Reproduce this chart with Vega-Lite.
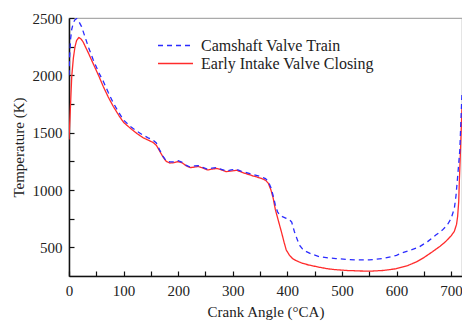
{
  "$schema": "https://vega.github.io/schema/vega-lite/v6.json",
  "autosize": "none",
  "padding": {"left": 69, "top": 18, "right": 0, "bottom": 46},
  "width": 393,
  "height": 258,
  "background": "white",
  "config": {
    "view": {"stroke": "#aaaaaa", "strokeWidth": 1.2},
    "font": "Liberation Serif",
    "axis": {
      "grid": false,
      "domainColor": "#111111",
      "domainWidth": 1.5,
      "tickColor": "#111111",
      "tickWidth": 1.2,
      "labelFont": "Liberation Serif",
      "labelFontSize": 15,
      "labelColor": "#222222",
      "titleFont": "Liberation Serif",
      "titleFontSize": 15,
      "titleFontWeight": "normal",
      "titleColor": "#222222"
    },
    "legend": {
      "labelFont": "Liberation Serif",
      "labelFontSize": 16,
      "labelColor": "#222222",
      "labelLimit": 400
    }
  },
  "data": {
    "values": [
      {"ca": 0, "T": 1440, "s": "Early Intake Valve Closing"},
      {"ca": 2, "T": 1650, "s": "Early Intake Valve Closing"},
      {"ca": 5, "T": 1990, "s": "Early Intake Valve Closing"},
      {"ca": 8, "T": 2150, "s": "Early Intake Valve Closing"},
      {"ca": 11, "T": 2250, "s": "Early Intake Valve Closing"},
      {"ca": 14, "T": 2305, "s": "Early Intake Valve Closing"},
      {"ca": 18, "T": 2330, "s": "Early Intake Valve Closing"},
      {"ca": 22, "T": 2318, "s": "Early Intake Valve Closing"},
      {"ca": 26, "T": 2290, "s": "Early Intake Valve Closing"},
      {"ca": 35, "T": 2200, "s": "Early Intake Valve Closing"},
      {"ca": 44, "T": 2105, "s": "Early Intake Valve Closing"},
      {"ca": 55, "T": 1990, "s": "Early Intake Valve Closing"},
      {"ca": 63, "T": 1900, "s": "Early Intake Valve Closing"},
      {"ca": 72, "T": 1810, "s": "Early Intake Valve Closing"},
      {"ca": 81, "T": 1730, "s": "Early Intake Valve Closing"},
      {"ca": 92, "T": 1645, "s": "Early Intake Valve Closing"},
      {"ca": 100, "T": 1590, "s": "Early Intake Valve Closing"},
      {"ca": 112, "T": 1540, "s": "Early Intake Valve Closing"},
      {"ca": 124, "T": 1494, "s": "Early Intake Valve Closing"},
      {"ca": 135, "T": 1458, "s": "Early Intake Valve Closing"},
      {"ca": 145, "T": 1435, "s": "Early Intake Valve Closing"},
      {"ca": 154, "T": 1415, "s": "Early Intake Valve Closing"},
      {"ca": 160, "T": 1390, "s": "Early Intake Valve Closing"},
      {"ca": 166, "T": 1340, "s": "Early Intake Valve Closing"},
      {"ca": 172, "T": 1290, "s": "Early Intake Valve Closing"},
      {"ca": 178, "T": 1250, "s": "Early Intake Valve Closing"},
      {"ca": 185, "T": 1235, "s": "Early Intake Valve Closing"},
      {"ca": 192, "T": 1238, "s": "Early Intake Valve Closing"},
      {"ca": 200, "T": 1248, "s": "Early Intake Valve Closing"},
      {"ca": 208, "T": 1235, "s": "Early Intake Valve Closing"},
      {"ca": 215, "T": 1210, "s": "Early Intake Valve Closing"},
      {"ca": 222, "T": 1195, "s": "Early Intake Valve Closing"},
      {"ca": 230, "T": 1200, "s": "Early Intake Valve Closing"},
      {"ca": 237, "T": 1205, "s": "Early Intake Valve Closing"},
      {"ca": 245, "T": 1192, "s": "Early Intake Valve Closing"},
      {"ca": 254, "T": 1175, "s": "Early Intake Valve Closing"},
      {"ca": 262, "T": 1182, "s": "Early Intake Valve Closing"},
      {"ca": 270, "T": 1188, "s": "Early Intake Valve Closing"},
      {"ca": 278, "T": 1178, "s": "Early Intake Valve Closing"},
      {"ca": 288, "T": 1160, "s": "Early Intake Valve Closing"},
      {"ca": 297, "T": 1165, "s": "Early Intake Valve Closing"},
      {"ca": 307, "T": 1172, "s": "Early Intake Valve Closing"},
      {"ca": 315, "T": 1158, "s": "Early Intake Valve Closing"},
      {"ca": 322, "T": 1145, "s": "Early Intake Valve Closing"},
      {"ca": 330, "T": 1135, "s": "Early Intake Valve Closing"},
      {"ca": 337, "T": 1122, "s": "Early Intake Valve Closing"},
      {"ca": 345, "T": 1112, "s": "Early Intake Valve Closing"},
      {"ca": 352, "T": 1102, "s": "Early Intake Valve Closing"},
      {"ca": 360, "T": 1085, "s": "Early Intake Valve Closing"},
      {"ca": 365, "T": 1060, "s": "Early Intake Valve Closing"},
      {"ca": 370, "T": 1000, "s": "Early Intake Valve Closing"},
      {"ca": 374, "T": 930, "s": "Early Intake Valve Closing"},
      {"ca": 378, "T": 830, "s": "Early Intake Valve Closing"},
      {"ca": 382, "T": 760, "s": "Early Intake Valve Closing"},
      {"ca": 386, "T": 690, "s": "Early Intake Valve Closing"},
      {"ca": 390, "T": 620, "s": "Early Intake Valve Closing"},
      {"ca": 394, "T": 545, "s": "Early Intake Valve Closing"},
      {"ca": 398, "T": 477, "s": "Early Intake Valve Closing"},
      {"ca": 404, "T": 430, "s": "Early Intake Valve Closing"},
      {"ca": 410, "T": 400, "s": "Early Intake Valve Closing"},
      {"ca": 418, "T": 380, "s": "Early Intake Valve Closing"},
      {"ca": 428, "T": 360, "s": "Early Intake Valve Closing"},
      {"ca": 440, "T": 345, "s": "Early Intake Valve Closing"},
      {"ca": 459, "T": 326, "s": "Early Intake Valve Closing"},
      {"ca": 475, "T": 312, "s": "Early Intake Valve Closing"},
      {"ca": 489, "T": 305, "s": "Early Intake Valve Closing"},
      {"ca": 510, "T": 298, "s": "Early Intake Valve Closing"},
      {"ca": 532, "T": 294, "s": "Early Intake Valve Closing"},
      {"ca": 550, "T": 292, "s": "Early Intake Valve Closing"},
      {"ca": 575, "T": 298, "s": "Early Intake Valve Closing"},
      {"ca": 599, "T": 313, "s": "Early Intake Valve Closing"},
      {"ca": 620, "T": 340, "s": "Early Intake Valve Closing"},
      {"ca": 636, "T": 372, "s": "Early Intake Valve Closing"},
      {"ca": 650, "T": 410, "s": "Early Intake Valve Closing"},
      {"ca": 666, "T": 462, "s": "Early Intake Valve Closing"},
      {"ca": 680, "T": 510, "s": "Early Intake Valve Closing"},
      {"ca": 690, "T": 550, "s": "Early Intake Valve Closing"},
      {"ca": 700, "T": 600, "s": "Early Intake Valve Closing"},
      {"ca": 706, "T": 640, "s": "Early Intake Valve Closing"},
      {"ca": 710, "T": 700, "s": "Early Intake Valve Closing"},
      {"ca": 712, "T": 770, "s": "Early Intake Valve Closing"},
      {"ca": 714, "T": 900, "s": "Early Intake Valve Closing"},
      {"ca": 715, "T": 1060, "s": "Early Intake Valve Closing"},
      {"ca": 716.5, "T": 1250, "s": "Early Intake Valve Closing"},
      {"ca": 718, "T": 1450, "s": "Early Intake Valve Closing"},
      {"ca": 720, "T": 1720, "s": "Early Intake Valve Closing"},
      {"ca": 0, "T": 2000, "s": "Camshaft Valve Train"},
      {"ca": 1, "T": 2150, "s": "Camshaft Valve Train"},
      {"ca": 3, "T": 2320, "s": "Camshaft Valve Train"},
      {"ca": 5, "T": 2400, "s": "Camshaft Valve Train"},
      {"ca": 8, "T": 2460, "s": "Camshaft Valve Train"},
      {"ca": 11, "T": 2485, "s": "Camshaft Valve Train"},
      {"ca": 14, "T": 2495, "s": "Camshaft Valve Train"},
      {"ca": 18, "T": 2470, "s": "Camshaft Valve Train"},
      {"ca": 23, "T": 2425, "s": "Camshaft Valve Train"},
      {"ca": 29, "T": 2340, "s": "Camshaft Valve Train"},
      {"ca": 36, "T": 2240, "s": "Camshaft Valve Train"},
      {"ca": 44, "T": 2140, "s": "Camshaft Valve Train"},
      {"ca": 55, "T": 2020, "s": "Camshaft Valve Train"},
      {"ca": 63, "T": 1946, "s": "Camshaft Valve Train"},
      {"ca": 72, "T": 1850, "s": "Camshaft Valve Train"},
      {"ca": 81, "T": 1760, "s": "Camshaft Valve Train"},
      {"ca": 92, "T": 1670, "s": "Camshaft Valve Train"},
      {"ca": 100, "T": 1610, "s": "Camshaft Valve Train"},
      {"ca": 112, "T": 1555, "s": "Camshaft Valve Train"},
      {"ca": 124, "T": 1515, "s": "Camshaft Valve Train"},
      {"ca": 135, "T": 1480, "s": "Camshaft Valve Train"},
      {"ca": 145, "T": 1455, "s": "Camshaft Valve Train"},
      {"ca": 154, "T": 1435, "s": "Camshaft Valve Train"},
      {"ca": 160, "T": 1410, "s": "Camshaft Valve Train"},
      {"ca": 166, "T": 1350, "s": "Camshaft Valve Train"},
      {"ca": 172, "T": 1295, "s": "Camshaft Valve Train"},
      {"ca": 178, "T": 1255, "s": "Camshaft Valve Train"},
      {"ca": 185, "T": 1245, "s": "Camshaft Valve Train"},
      {"ca": 192, "T": 1245, "s": "Camshaft Valve Train"},
      {"ca": 200, "T": 1255, "s": "Camshaft Valve Train"},
      {"ca": 208, "T": 1240, "s": "Camshaft Valve Train"},
      {"ca": 215, "T": 1215, "s": "Camshaft Valve Train"},
      {"ca": 222, "T": 1200, "s": "Camshaft Valve Train"},
      {"ca": 230, "T": 1210, "s": "Camshaft Valve Train"},
      {"ca": 237, "T": 1212, "s": "Camshaft Valve Train"},
      {"ca": 245, "T": 1198, "s": "Camshaft Valve Train"},
      {"ca": 254, "T": 1180, "s": "Camshaft Valve Train"},
      {"ca": 262, "T": 1190, "s": "Camshaft Valve Train"},
      {"ca": 270, "T": 1195, "s": "Camshaft Valve Train"},
      {"ca": 278, "T": 1182, "s": "Camshaft Valve Train"},
      {"ca": 288, "T": 1165, "s": "Camshaft Valve Train"},
      {"ca": 297, "T": 1175, "s": "Camshaft Valve Train"},
      {"ca": 307, "T": 1180, "s": "Camshaft Valve Train"},
      {"ca": 315, "T": 1165, "s": "Camshaft Valve Train"},
      {"ca": 322, "T": 1155, "s": "Camshaft Valve Train"},
      {"ca": 330, "T": 1145, "s": "Camshaft Valve Train"},
      {"ca": 337, "T": 1135, "s": "Camshaft Valve Train"},
      {"ca": 345, "T": 1125, "s": "Camshaft Valve Train"},
      {"ca": 352, "T": 1115, "s": "Camshaft Valve Train"},
      {"ca": 360, "T": 1100, "s": "Camshaft Valve Train"},
      {"ca": 365, "T": 1075, "s": "Camshaft Valve Train"},
      {"ca": 370, "T": 1020, "s": "Camshaft Valve Train"},
      {"ca": 374, "T": 950, "s": "Camshaft Valve Train"},
      {"ca": 378, "T": 870, "s": "Camshaft Valve Train"},
      {"ca": 382, "T": 810, "s": "Camshaft Valve Train"},
      {"ca": 386, "T": 782, "s": "Camshaft Valve Train"},
      {"ca": 392, "T": 765, "s": "Camshaft Valve Train"},
      {"ca": 398, "T": 753, "s": "Camshaft Valve Train"},
      {"ca": 404, "T": 740, "s": "Camshaft Valve Train"},
      {"ca": 408, "T": 720, "s": "Camshaft Valve Train"},
      {"ca": 413, "T": 636, "s": "Camshaft Valve Train"},
      {"ca": 418, "T": 570, "s": "Camshaft Valve Train"},
      {"ca": 422, "T": 520, "s": "Camshaft Valve Train"},
      {"ca": 428, "T": 485, "s": "Camshaft Valve Train"},
      {"ca": 435, "T": 462, "s": "Camshaft Valve Train"},
      {"ca": 445, "T": 440, "s": "Camshaft Valve Train"},
      {"ca": 459, "T": 418, "s": "Camshaft Valve Train"},
      {"ca": 475, "T": 408, "s": "Camshaft Valve Train"},
      {"ca": 489, "T": 402, "s": "Camshaft Valve Train"},
      {"ca": 510, "T": 394, "s": "Camshaft Valve Train"},
      {"ca": 526, "T": 390, "s": "Camshaft Valve Train"},
      {"ca": 550, "T": 390, "s": "Camshaft Valve Train"},
      {"ca": 575, "T": 402, "s": "Camshaft Valve Train"},
      {"ca": 600, "T": 430, "s": "Camshaft Valve Train"},
      {"ca": 611, "T": 453, "s": "Camshaft Valve Train"},
      {"ca": 625, "T": 475, "s": "Camshaft Valve Train"},
      {"ca": 642, "T": 505, "s": "Camshaft Valve Train"},
      {"ca": 657, "T": 550, "s": "Camshaft Valve Train"},
      {"ca": 672, "T": 607, "s": "Camshaft Valve Train"},
      {"ca": 684, "T": 650, "s": "Camshaft Valve Train"},
      {"ca": 693, "T": 695, "s": "Camshaft Valve Train"},
      {"ca": 700, "T": 750, "s": "Camshaft Valve Train"},
      {"ca": 706, "T": 840, "s": "Camshaft Valve Train"},
      {"ca": 709, "T": 950, "s": "Camshaft Valve Train"},
      {"ca": 712, "T": 1116, "s": "Camshaft Valve Train"},
      {"ca": 714, "T": 1230, "s": "Camshaft Valve Train"},
      {"ca": 716, "T": 1349, "s": "Camshaft Valve Train"},
      {"ca": 718, "T": 1600, "s": "Camshaft Valve Train"},
      {"ca": 720, "T": 1850, "s": "Camshaft Valve Train"}
    ]
  },
  "mark": {"type": "line", "strokeWidth": 1.3, "clip": true},
  "encoding": {
    "x": {
      "field": "ca",
      "type": "quantitative",
      "scale": {"domain": [0, 720], "nice": false, "zero": false},
      "axis": {
        "title": "Crank Angle (°CA)",
        "values": [0, 50, 100, 150, 200, 250, 300, 350, 400, 450, 500, 550, 600, 650, 700],
        "labelExpr": "datum.value % 100 === 0 ? datum.label : ''",
        "tickSize": -5,
        "labelPadding": 12,
        "titlePadding": 6,
        "labelFlush": false,
        "labelOverlap": false
      }
    },
    "y": {
      "field": "T",
      "type": "quantitative",
      "scale": {"domain": [250, 2500], "nice": false, "zero": false},
      "axis": {
        "title": "Temperature (K)",
        "values": [500, 750, 1000, 1250, 1500, 1750, 2000, 2250, 2500],
        "labelExpr": "datum.value % 500 === 0 ? datum.label : ''",
        "format": "d",
        "tickSize": -5,
        "labelPadding": 12,
        "titlePadding": 6,
        "labelFlush": false,
        "labelOverlap": false
      }
    },
    "color": {
      "field": "s",
      "type": "nominal",
      "scale": {"domain": ["Camshaft Valve Train", "Early Intake Valve Closing"], "range": ["#2b2bff", "#ff2b2b"]},
      "legend": {
        "title": null,
        "orient": "none",
        "legendX": 97,
        "legendY": 18,
        "symbolType": "M-2,0H2",
        "symbolSize": 306,
        "symbolStrokeWidth": 1.3,
        "symbolFillColor": "transparent",
        "labelOffset": 16,
        "rowPadding": -1,
        "labelFont": "Liberation Serif",
        "labelFontSize": 16,
        "labelLimit": 400,
        "encode": {
          "symbols": {"update": {"strokeDash": {"signal": "datum.value === 'Camshaft Valve Train' ? [5, 4] : [1, 0]"}}}
        }
      }
    },
    "strokeDash": {
      "field": "s",
      "type": "nominal",
      "scale": {"domain": ["Camshaft Valve Train", "Early Intake Valve Closing"], "range": [[5, 4], [1, 0]]},
      "legend": null
    }
  }
}
